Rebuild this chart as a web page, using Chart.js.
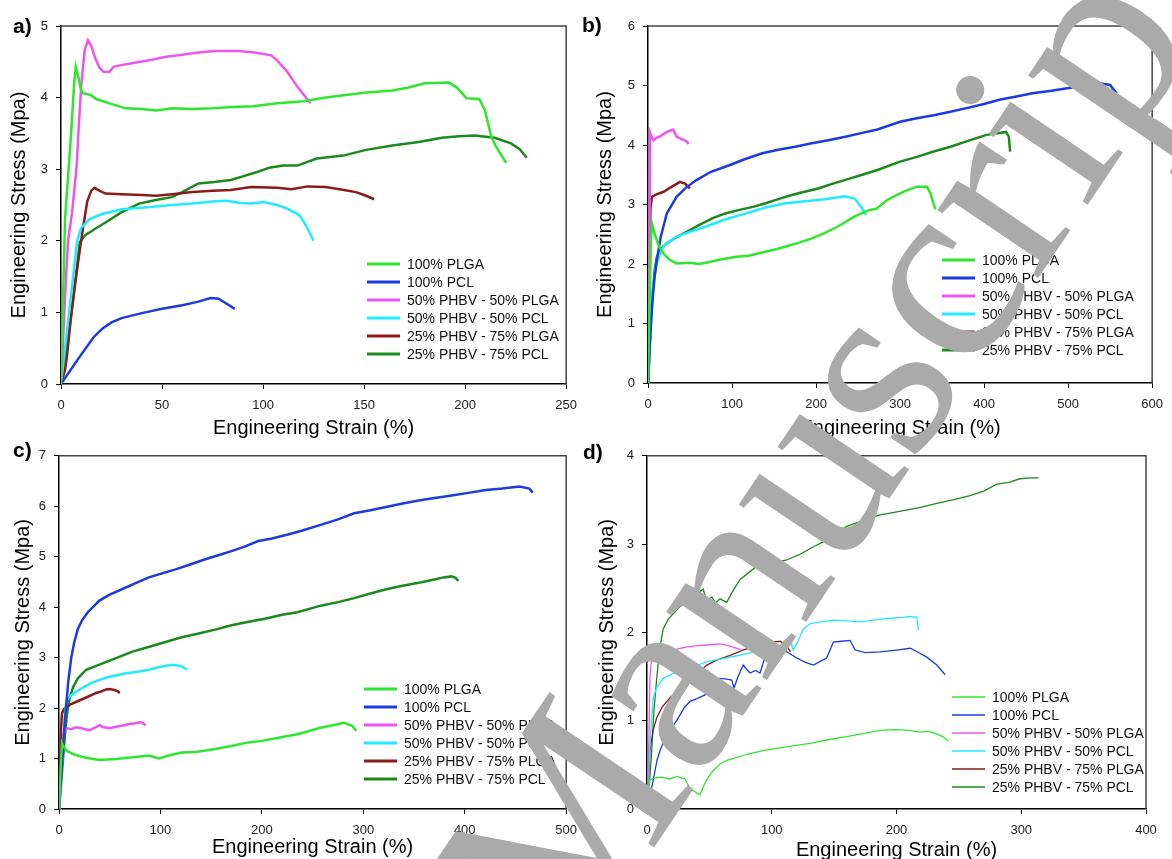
<!DOCTYPE html>
<html>
<head>
<meta charset="utf-8">
<script src="https://cdn.jsdelivr.net/npm/chart.js@4.4.0/dist/chart.umd.min.js"></script>
<style>
  html, body { margin: 0; padding: 0; background: #fff; overflow: hidden; width: 1172px; height: 859px; }
  canvas { position: absolute; }
  .rotulo { position: absolute; font: bold 21px "Liberation Sans", Arial, sans-serif; color: #000; }
  svg.marca { position: absolute; left: 0; top: 0; pointer-events: none; }
</style>
</head>
<body>
<canvas id="graficoA" width="586" height="440" style="left:0;top:0"></canvas>
<canvas id="graficoB" width="586" height="440" style="left:586px;top:0"></canvas>
<canvas id="graficoC" width="586" height="419" style="left:0;top:440px"></canvas>
<canvas id="graficoD" width="586" height="422" style="left:586px;top:440px"></canvas>
<div class="rotulo" style="left:13px;top:14px">a)</div>
<div class="rotulo" style="left:582px;top:13px">b)</div>
<div class="rotulo" style="left:13px;top:438px">c)</div>
<div class="rotulo" style="left:583px;top:440px">d)</div>
<svg class="marca" width="1172" height="859">
  <text x="566" y="978" transform="rotate(-56 566 978)" font-family="Liberation Serif, Times New Roman, serif" font-size="265" fill="#aaaaaa">Manuscript</text>
</svg>
<script>
// Nomes e cores das séries
const nomesSeries = ['100% PLGA', '100% PCL', '50% PHBV - 50% PLGA', '50% PHBV - 50% PCL', '25% PHBV - 75% PLGA', '25% PHBV - 75% PCL'];
const cores = ['#2ee62e', '#1a3be0', '#ee55ee', '#22eaff', '#8b1a1a', '#1a8a1a'];

// Painel a) - [deformação %, tensão MPa]
const a_plga = [[0,0],[2,2.3],[5,3.5],[6.5,4.2],[7.3,4.43],[8.5,4.3],[10,4.1],[10.9,4.06],[13,4.05],[15,4.03],[17.4,3.98],[24,3.92],[32,3.85],[40,3.84],[47,3.82],[55,3.85],[65,3.84],[75,3.85],[85,3.87],[95,3.88],[107,3.92],[120,3.95],[131,4.0],[151,4.07],[164,4.1],[172,4.14],[180,4.2],[192,4.21],[196,4.14],[200.7,3.99],[207,3.98],[209.7,3.83],[213,3.45],[215.4,3.31],[220.3,3.09]];
const a_pcl = [[0,0],[8,0.33],[16,0.65],[20.7,0.78],[25,0.86],[30,0.92],[40,0.99],[50,1.05],[60,1.1],[68,1.15],[74,1.2],[78,1.19],[82,1.12],[86,1.05]];
const a_phbvPlga50 = [[0,0],[1,0.6],[2.5,1.5],[3.5,2.0],[5.5,2.4],[7.7,3.03],[9,3.7],[10.1,4.2],[11.7,4.66],[13.3,4.8],[15,4.72],[17,4.55],[19,4.42],[21,4.36],[24,4.36],[26,4.43],[29,4.45],[35,4.48],[45,4.53],[52,4.57],[60,4.6],[68,4.63],[76,4.65],[88,4.65],[96,4.63],[104,4.59],[107,4.52],[112,4.36],[117,4.15],[123.5,3.92]];
const a_phbvPcl50 = [[0,0],[4,1.0],[8,2.0],[10,2.18],[14,2.3],[20,2.37],[30,2.44],[43,2.47],[55,2.5],[65,2.52],[75,2.55],[82,2.56],[88,2.53],[94,2.52],[100,2.54],[107,2.5],[112,2.45],[118,2.36],[121.7,2.19],[125,2.0]];
const a_phbvPlga75 = [[0,0],[2,0.2],[3,0.4],[5,0.95],[7,1.4],[9.3,1.87],[11,2.2],[13,2.55],[15,2.7],[16.6,2.74],[19,2.7],[22,2.66],[30,2.65],[40,2.64],[47,2.63],[55,2.65],[65,2.68],[75,2.7],[84,2.71],[94,2.75],[107,2.74],[114,2.72],[122,2.76],[131,2.75],[140,2.71],[146,2.68],[150,2.64],[155,2.58]];
const a_phbvPcl75 = [[0,0],[5,0.95],[9.3,1.98],[12,2.08],[16,2.15],[24,2.29],[30,2.4],[38.6,2.52],[47,2.57],[54.8,2.61],[60,2.68],[68,2.8],[76,2.82],[84,2.85],[90,2.9],[97,2.96],[103,3.02],[110,3.05],[117,3.05],[126.6,3.15],[139.7,3.19],[151,3.27],[164,3.33],[177,3.38],[188.5,3.44],[197,3.46],[204.8,3.47],[214.6,3.44],[222.7,3.36],[227,3.28],[230.5,3.16]];

// Painel b)
const b_plga = [[0,0],[2,1.5],[3.5,2.4],[4.7,2.68],[8,2.5],[13,2.3],[18,2.18],[25,2.08],[34,2.01],[50,2.02],[60,2.0],[69,2.02],[85,2.07],[105,2.12],[120,2.14],[132,2.18],[150,2.24],[163,2.29],[180,2.36],[195,2.43],[210,2.52],[226,2.63],[246,2.8],[262,2.9],[272,2.93],[285,3.08],[305,3.22],[320,3.3],[332,3.3],[336,3.19],[342,2.92]];
const b_pcl = [[0,0],[2,0.6],[4,1.1],[6,1.5],[8,1.8],[10.6,2.07],[15,2.45],[22.4,2.85],[34,3.13],[45,3.28],[57.6,3.41],[75,3.55],[96.8,3.66],[115,3.76],[136,3.86],[155,3.92],[175,3.97],[195,4.03],[214.5,4.08],[235,4.14],[253.6,4.2],[273,4.26],[300,4.39],[320,4.45],[340,4.5],[360,4.56],[379,4.62],[400,4.69],[418,4.76],[440,4.82],[457.6,4.87],[480,4.91],[497,4.95],[516.5,4.99],[536,5.04],[550,5.01],[557.6,4.87]];
const b_phbvPlga50 = [[0,0],[1,1.5],[2,3],[2.7,4.2],[4,4.15],[6.6,4.08],[10,4.12],[15,4.15],[20,4.2],[26,4.24],[30,4.26],[32,4.2],[34,4.14],[40,4.1],[46,4.06],[48.5,4.02]];
const b_phbvPcl50 = [[0,0],[3,0.9],[6,1.6],[10,2.0],[15,2.2],[20,2.32],[34,2.46],[50,2.54],[69,2.63],[90,2.74],[116.5,2.85],[140,2.95],[163.5,3.02],[190,3.06],[210.6,3.09],[234,3.14],[246,3.1],[253.6,2.96],[259.5,2.82]];
const b_phbvPlga75 = [[0,0],[1,1.2],[2,2.4],[3,2.95],[4.7,3.13],[10,3.17],[18,3.21],[25,3.27],[32,3.33],[38,3.38],[44,3.35],[49.8,3.27]];
const b_phbvPcl75 = [[0,0],[2,0.6],[4,1.2],[6,1.6],[8,1.9],[10.6,2.12],[15,2.25],[22.4,2.35],[35,2.46],[46,2.54],[60,2.65],[77,2.77],[92,2.85],[108.6,2.91],[125,2.96],[140,3.02],[155,3.09],[171,3.16],[185,3.21],[202.7,3.27],[220,3.35],[234,3.41],[255,3.5],[273,3.58],[300,3.72],[320,3.8],[340,3.89],[360,3.97],[379,4.06],[402.7,4.17],[418,4.2],[426,4.22],[429.4,4.14],[431,3.89]];

// Painel c)
const c_plga = [[0,0],[1,0.5],[2,1.0],[3,1.3],[4,1.25],[8,1.15],[13.7,1.09],[25,1.02],[39.8,0.97],[56,0.99],[70,1.02],[80,1.04],[88.7,1.06],[98.5,1.0],[110,1.07],[121,1.12],[135,1.13],[154,1.19],[170,1.25],[186.6,1.32],[200,1.35],[219,1.42],[235,1.48],[258,1.61],[270,1.66],[281,1.71],[289,1.65],[293,1.55]];
const c_pcl = [[0,0],[2,0.6],[4,1.2],[6,1.8],[7.2,2.07],[9,2.5],[12,2.99],[15,3.3],[18.6,3.57],[23,3.75],[28.4,3.9],[39.8,4.13],[50,4.25],[62.6,4.36],[75,4.47],[88.7,4.59],[100,4.66],[114.9,4.75],[130,4.85],[144.2,4.95],[157,5.03],[170,5.11],[183,5.2],[196.4,5.31],[210,5.36],[225.7,5.44],[240,5.52],[258,5.63],[275,5.74],[291,5.86],[307,5.92],[323.6,5.99],[340,6.06],[356,6.12],[372,6.17],[388.8,6.22],[405,6.27],[421,6.32],[437,6.35],[454,6.39],[463.8,6.35],[467,6.27]];
const c_phbvPlga50 = [[0,0],[2,0.6],[4,1.3],[5.5,1.55],[8,1.6],[12,1.58],[17,1.62],[22,1.6],[26,1.58],[30,1.56],[36,1.62],[40,1.66],[44,1.62],[50,1.6],[56,1.63],[62,1.65],[68,1.68],[75,1.7],[80,1.72],[83,1.7],[85.5,1.66]];
const c_phbvPcl50 = [[0,0],[2,0.6],[4,1.3],[6,1.9],[7.2,2.14],[10,2.22],[17,2.33],[25,2.42],[32,2.5],[40,2.56],[50,2.62],[66,2.69],[78,2.72],[88.7,2.76],[100,2.82],[111.6,2.86],[118,2.84],[121,2.83],[126,2.76]];
const c_phbvPlga75 = [[0,0],[1,0.8],[2,1.6],[3,1.9],[5,1.98],[7.2,2.02],[12,2.08],[20,2.15],[28,2.22],[36.6,2.3],[42,2.33],[46.4,2.37],[50,2.38],[54.5,2.36],[58,2.33],[60,2.3]];
const c_phbvPcl75 = [[0,0],[2,0.5],[4,1.0],[6,1.5],[8,1.9],[10.5,2.2],[14,2.42],[18.6,2.59],[26.8,2.76],[39.8,2.86],[55,2.98],[72.4,3.12],[90,3.22],[105,3.31],[120,3.4],[137.7,3.48],[155,3.56],[170,3.64],[187,3.71],[203,3.77],[220,3.85],[235,3.9],[258,4.03],[275,4.1],[291,4.18],[307,4.27],[323.6,4.36],[340,4.43],[356,4.49],[370,4.55],[379,4.59],[387,4.61],[391,4.58],[393.7,4.52]];

// Painel d)
const d_plga = [[0,0],[1,0.2],[2,0.33],[6,0.35],[12,0.36],[18,0.34],[24,0.37],[28,0.35],[30.5,0.34],[34.5,0.23],[38,0.2],[40,0.18],[42.5,0.16],[45,0.25],[47.9,0.33],[52,0.42],[58.5,0.51],[64,0.55],[69,0.57],[80,0.62],[93,0.66],[105,0.69],[120,0.72],[133,0.75],[147,0.79],[160,0.82],[175,0.86],[187,0.89],[200,0.9],[210,0.89],[219,0.87],[226,0.88],[232,0.85],[237,0.82],[241.6,0.77]];
const d_pcl = [[0,0],[2.4,0.14],[5,0.33],[8,0.55],[10.4,0.66],[15,0.82],[20,0.93],[23.8,1.0],[30,1.15],[34.5,1.22],[40,1.25],[47.9,1.3],[53,1.4],[58.5,1.48],[64,1.47],[67.9,1.46],[69.8,1.37],[73,1.5],[77.2,1.63],[80,1.58],[82.6,1.54],[87,1.57],[90.6,1.54],[96,1.78],[100,1.82],[106.7,1.85],[112,1.78],[120,1.71],[127,1.66],[133.4,1.63],[140,1.68],[144,1.71],[149.4,1.89],[156,1.9],[162.8,1.91],[166.8,1.8],[175,1.77],[186.8,1.78],[200,1.8],[211,1.82],[218,1.77],[224.3,1.72],[232.3,1.63],[239,1.52]];
const d_phbvPlga50 = [[0,0],[1.5,0.8],[2.4,1.5],[3.5,1.68],[7.8,1.71],[14,1.76],[21,1.8],[30,1.83],[40,1.85],[50,1.86],[58.5,1.87],[65,1.85],[72,1.82],[76,1.8]];
const d_phbvPcl50 = [[0,0],[2,0.6],[3.5,1.0],[5,1.26],[8,1.38],[13,1.48],[20,1.53],[26.5,1.56],[35,1.6],[47.9,1.67],[60,1.7],[70,1.73],[80,1.76],[92,1.8],[106.7,1.85],[114.7,1.91],[117.3,1.8],[121,1.9],[125.3,2.04],[131,2.1],[138.7,2.12],[150,2.14],[160,2.13],[172,2.12],[186.8,2.15],[196,2.16],[205.5,2.17],[210,2.18],[216.3,2.17],[217.6,2.02]];
const d_phbvPlga75 = [[0,0],[1,0.3],[2.4,0.66],[5,0.9],[7.8,1.03],[12,1.15],[18.4,1.26],[25,1.34],[34.5,1.44],[40,1.53],[47.9,1.63],[55,1.68],[66.6,1.74],[77,1.8],[88,1.85],[96,1.91],[101,1.89],[106.7,1.9],[112,1.85],[115,1.78]];
const d_phbvPcl75 = [[0,0],[2,0.3],[3.8,0.66],[5.5,1.1],[7.8,1.48],[10,1.8],[13,2.04],[17,2.15],[21,2.21],[27,2.3],[34.5,2.38],[40,2.44],[45,2.49],[47.9,2.36],[52,2.4],[55,2.33],[58.5,2.38],[63.9,2.34],[68,2.45],[74.6,2.6],[80,2.66],[88,2.75],[100,2.78],[112,2.82],[122,2.88],[133.4,2.97],[145,3.05],[160,3.2],[172,3.26],[186.8,3.33],[195,3.35],[205.5,3.38],[220,3.42],[232.3,3.46],[245,3.5],[259,3.55],[270,3.6],[280.4,3.68],[290,3.7],[299,3.74],[307,3.75],[313.8,3.75]];

const fonte = '"Liberation Sans", Arial, sans-serif';

// Moldura superior/direita e legenda dentro da área do gráfico
const moldura = {
  id: 'moldura',
  afterDraw(chart, args, opts) {
    const { ctx, chartArea: { left, top, right, bottom } } = chart;
    ctx.save();
    ctx.strokeStyle = '#444';
    ctx.lineWidth = 1.5;
    ctx.beginPath();
    ctx.moveTo(left, top);
    ctx.lineTo(right, top);
    ctx.lineTo(right, bottom);
    ctx.stroke();

    ctx.font = '14px ' + fonte;
    ctx.textBaseline = 'middle';
    chart.data.datasets.forEach((ds, i) => {
      const y = opts.y + i * 18;
      ctx.strokeStyle = ds.borderColor;
      ctx.lineWidth = opts.lw;
      ctx.beginPath();
      ctx.moveTo(opts.x, y);
      ctx.lineTo(opts.x + 33, y);
      ctx.stroke();
      ctx.fillStyle = '#111';
      ctx.fillText(ds.label, opts.x + 40, y + 1);
    });
    ctx.restore();
  }
};

function criarPainel(p) {
  new Chart(document.getElementById(p.id), {
    type: 'line',
    data: {
      datasets: p.series.map((s, i) => ({
        label: nomesSeries[i],
        data: s.map(([x, y]) => ({ x, y })),
        borderColor: cores[i],
        borderWidth: p.lw,
        pointRadius: 0,
        tension: 0,
        fill: false
      }))
    },
    options: {
      responsive: false,
      animation: false,
      layout: { padding: { top: p.padTop, right: p.padRight, left: 0, bottom: 0 } },
      plugins: {
        legend: { display: false },
        tooltip: { enabled: false },
        moldura: { x: p.legX, y: p.legY, lw: p.legLw }
      },
      scales: {
        x: {
          type: 'linear', min: 0, max: p.xMax,
          ticks: { stepSize: p.xStep, padding: 9, color: '#222', font: { family: fonte, size: 13 } },
          grid: { drawOnChartArea: false, drawTicks: true, tickLength: 5, color: '#000' },
          border: { display: true, color: '#000', width: 1.5 },
          title: { display: true, text: 'Engineering Strain (%)', color: '#000', font: { family: fonte, size: 20 }, padding: { top: 0, bottom: 0 } },
          afterFit: s => { s.height = p.xH; }
        },
        y: {
          type: 'linear', min: 0, max: p.yMax,
          ticks: { stepSize: 1, padding: 8, color: '#222', font: { family: fonte, size: 13 } },
          grid: { drawOnChartArea: false, drawTicks: true, tickLength: 5, color: '#000' },
          border: { display: true, color: '#000', width: 1.5 },
          title: { display: true, text: 'Engineering Stress (Mpa)', color: '#000', font: { family: fonte, size: 20 }, padding: { top: p.yTitlePad, bottom: 0 } },
          afterFit: s => { s.width = p.yW; }
        }
      }
    },
    plugins: [moldura]
  });
}

criarPainel({ id: 'graficoA', series: [a_plga, a_pcl, a_phbvPlga50, a_phbvPcl50, a_phbvPlga75, a_phbvPcl75],
  xMax: 250, xStep: 50, yMax: 5, lw: 2.5, legLw: 3, padTop: 26, padRight: 14, yW: 61, xH: 56, yTitlePad: 7, legX: 367, legY: 264 });
criarPainel({ id: 'graficoB', series: [b_plga, b_pcl, b_phbvPlga50, b_phbvPcl50, b_phbvPlga75, b_phbvPcl75],
  xMax: 600, xStep: 100, yMax: 6, lw: 2.5, legLw: 3, padTop: 26, padRight: 14, yW: 62, xH: 57, yTitlePad: 7, legX: 356, legY: 260 });
criarPainel({ id: 'graficoC', series: [c_plga, c_pcl, c_phbvPlga50, c_phbvPcl50, c_phbvPlga75, c_phbvPcl75],
  xMax: 500, xStep: 100, yMax: 7, lw: 2.5, legLw: 3, padTop: 12, padRight: 16, yW: 59, xH: 50, yTitlePad: 11, legX: 364, legY: 249 });
criarPainel({ id: 'graficoD', series: [d_plga, d_pcl, d_phbvPlga50, d_phbvPcl50, d_phbvPlga75, d_phbvPcl75],
  xMax: 400, xStep: 100, yMax: 4, lw: 1.3, legLw: 1.6, padTop: 11, padRight: 26, yW: 61, xH: 53, yTitlePad: 9, legX: 366, legY: 257 });
</script>
</body>
</html>
